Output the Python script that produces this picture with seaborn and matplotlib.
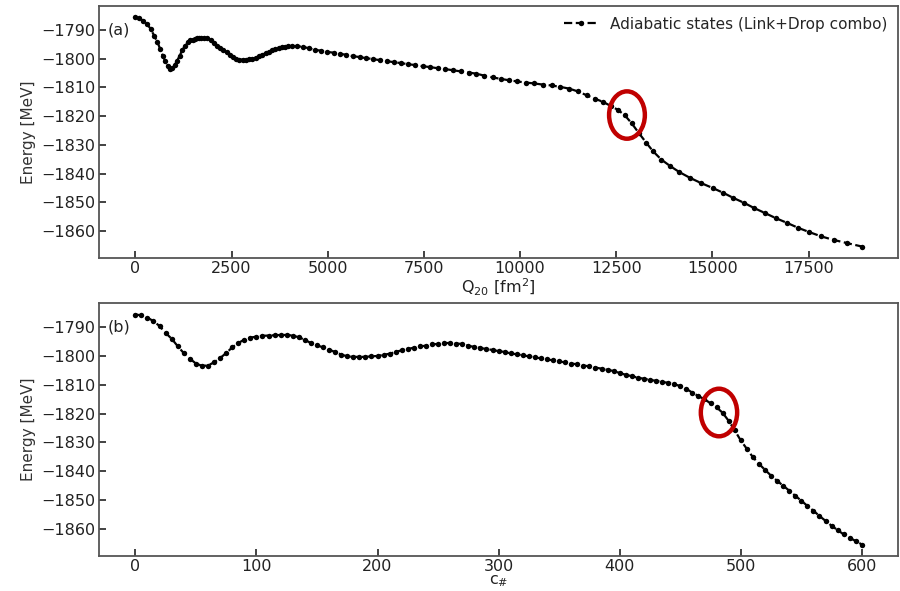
import matplotlib
matplotlib.use("Agg")
import matplotlib.pyplot as plt
from matplotlib.patches import Ellipse
import numpy as np
import pandas as pd
import seaborn as sns

# path index c# (one state every 5 steps)
c_index = np.arange(0, 605, 5)

# quadrupole moment of each state along the path [fm^2]
q20 = [0, 100, 200, 300, 400, 490, 570, 645, 715, 780, 845, 905,
       960, 1020, 1085, 1150, 1220, 1290, 1360, 1425, 1490, 1550, 1605, 1655,
       1705, 1790, 1873, 1956, 2040, 2123, 2206, 2290, 2373, 2456, 2540, 2623,
       2706, 2790, 2875, 2960, 3045, 3130, 3215, 3300, 3385, 3470, 3554, 3638,
       3722, 3806, 3890, 3975, 4060, 4210, 4362, 4516, 4672, 4831, 4992, 5155,
       5320, 5487, 5656, 5828, 6002, 6178, 6356, 6536, 6718, 6903, 7090, 7279,
       7470, 7663, 7858, 8056, 8256, 8458, 8662, 8868, 9076, 9286, 9499, 9714,
       9931, 10150, 10371, 10595, 10821, 11049, 11279, 11509, 11729, 11944, 12154, 12354,
       12544, 12724, 12904, 13084, 13284, 13456, 13672, 13905, 14145, 14421, 14706, 15006,
       15283, 15549, 15826, 16085, 16361, 16646, 16946, 17231, 17524, 17835, 18153, 18498,
       18886]

# adiabatic energy [MeV]
energy = [-1785.6, -1785.9, -1786.7, -1787.9, -1789.6, -1792.0, -1794.0, -1796.6,
          -1799.0, -1800.9, -1802.6, -1803.4, -1803.3, -1802.2, -1800.7, -1799.0,
          -1797.0, -1795.5, -1794.3, -1793.6, -1793.3, -1793.0, -1792.9, -1792.8,
          -1792.7, -1792.7, -1792.9, -1793.5, -1794.4, -1795.5, -1796.3, -1797.0,
          -1797.8, -1798.6, -1799.5, -1800.1, -1800.3, -1800.3, -1800.3, -1800.1,
          -1800.0, -1799.6, -1799.2, -1798.6, -1798.0, -1797.6, -1797.1, -1796.7,
          -1796.4, -1796.0, -1795.8, -1795.5, -1795.5, -1795.7, -1795.8, -1796.4,
          -1796.9, -1797.2, -1797.6, -1797.9, -1798.3, -1798.6, -1799.1, -1799.4,
          -1799.8, -1800.1, -1800.5, -1800.8, -1801.2, -1801.5, -1801.9, -1802.2,
          -1802.6, -1802.9, -1803.3, -1803.6, -1804.0, -1804.4, -1804.8, -1805.2,
          -1805.9, -1806.5, -1807.0, -1807.5, -1807.9, -1808.3, -1808.6, -1809.0,
          -1809.3, -1809.8, -1810.4, -1811.4, -1812.7, -1813.9, -1815.0, -1816.4,
          -1817.8, -1819.7, -1822.5, -1825.8, -1829.3, -1832.2, -1835.1, -1837.4,
          -1839.5, -1841.5, -1843.3, -1845.0, -1846.7, -1848.5, -1850.2, -1852.0,
          -1853.7, -1855.5, -1857.2, -1858.9, -1860.4, -1861.9, -1863.1, -1864.2,
          -1865.4]

# marked crossing (red circles)
mark_q20, mark_c, mark_e = 12780, 482, -1819.6

df = pd.DataFrame({"c": c_index, "Q20": q20, "E": energy})

sns.set_style("ticks")
plt.rcParams["font.family"] = ["DejaVu Sans"]
plt.rcParams["font.size"] = 11.5

fig = plt.figure(figsize=(9, 5.91), dpi=100)
ax1 = fig.add_axes([0.110, 0.5635, 0.888, 0.4264])
ax2 = fig.add_axes([0.110, 0.0592, 0.888, 0.4281])

style = dict(color="black", linestyle="--", marker="o", markersize=3.9,
             markeredgewidth=0, linewidth=1.6)

sns.lineplot(data=df, x="Q20", y="E", ax=ax1, label="Adiabatic states (Link+Drop combo)", **style)
sns.lineplot(data=df, x="c", y="E", ax=ax2, legend=False, **style)

ax1.set_xlabel("Q$_{20}$ [fm$^2$]", labelpad=0, color="#222222")
ax2.set_xlabel("c$_{\\#}$", labelpad=-1, color="#222222")
for ax, tag in [(ax1, "(a)"), (ax2, "(b)")]:
    ax.set_ylabel("Energy [MeV]", fontsize=11, color="#333333")
    ax.set_yticks(np.arange(-1860, -1789, 10))
    ax.tick_params(direction="in", length=5, width=1.2, pad=2.5,
                   labelsize=11.5, colors="#222222")
    for sp in ax.spines.values():
        sp.set_color("#555555")
        sp.set_linewidth(1.3)
    ax.text(0.011, 0.905, tag, transform=ax.transAxes, fontsize=11.5,
            va="center", ha="left", color="#222222")

ax1.set_xticks([0, 2500, 5000, 7500, 10000, 12500, 15000, 17500])
ax2.set_xticks([0, 100, 200, 300, 400, 500, 600])

ax1.legend(loc="upper right", frameon=False, fontsize=11, handlelength=2.2,
           borderaxespad=0.3)

ax1.add_patch(Ellipse((mark_q20, mark_e), width=930, height=16.5, fill=False,
                      edgecolor="#C00000", linewidth=3.2, zorder=5))
ax2.add_patch(Ellipse((mark_c, mark_e), width=30, height=16.5, fill=False,
                      edgecolor="#C00000", linewidth=3.2, zorder=5))

fig.savefig("out.png", dpi=100)
